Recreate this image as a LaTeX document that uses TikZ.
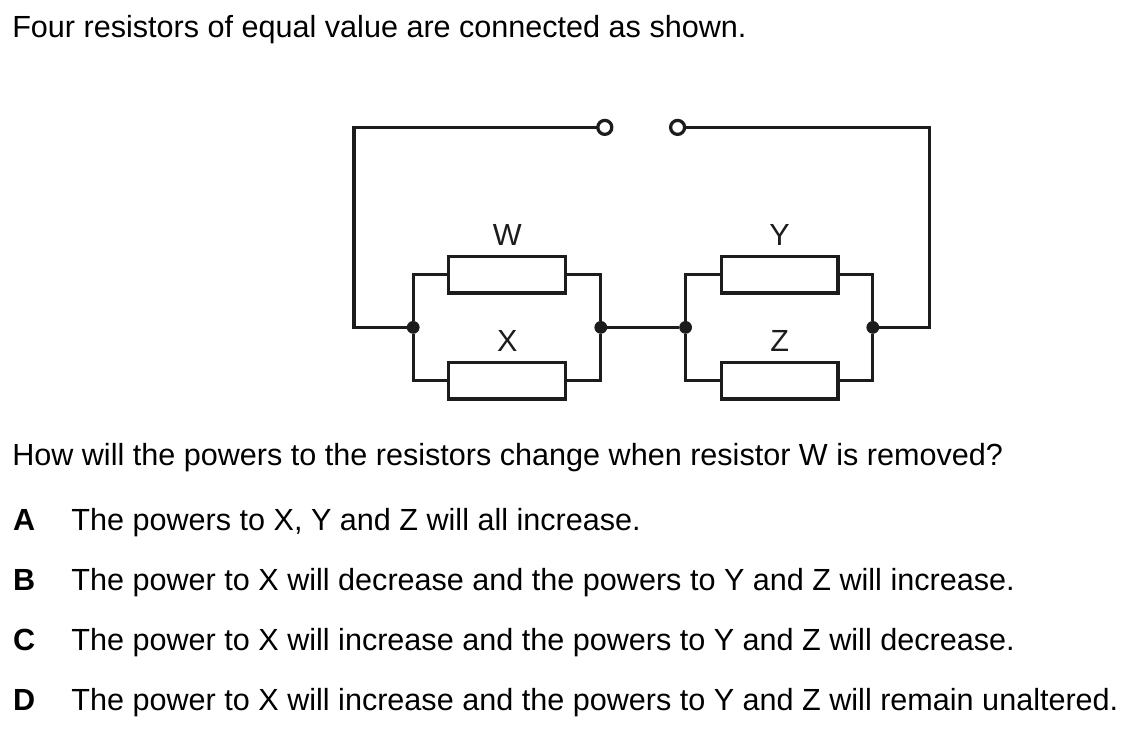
\documentclass[tikz,border=0pt]{standalone}
\usepackage{fontspec}
\setmainfont{Liberation Sans}
\usepackage{xcolor}
\usetikzlibrary{positioning}
\definecolor{wireblack}{RGB}{28, 28, 28}
\tikzset{
  wire/.style={wireblack, line width=2.3pt},
  resistor/.style={draw=wireblack, line width=2.3pt, rectangle, minimum width=2.92cm,
                   minimum height=0.92cm, inner sep=0pt, outer sep=0pt},
  junction/.style={circle, fill=wireblack, minimum size=0.32cm, inner sep=0pt, outer sep=0pt},
  terminal/.style={circle, draw=wireblack, line width=2.3pt, fill=white, minimum size=0.35cm,
                   inner sep=0pt, outer sep=0pt},
  reslabel/.style={font=\fontsize{21.75}{25}\selectfont, text=wireblack, inner sep=0pt},
  question/.style={font=\fontsize{21.75}{25}\selectfont, anchor=base west, inner sep=0pt},
  letter/.style={font=\fontsize{21.75}{25}\selectfont\bfseries, anchor=base west, inner sep=0pt}
}
\begin{document}
\begin{tikzpicture}
  \useasboundingbox (0,0) rectangle (28.175,18.225);

  %--- question text ---
  \node[question] (intro) at (0.3,17.28) {Four resistors of equal value are connected as shown.};
  \node[question] (ask) at (0.3,6.58) {How will the powers to the resistors change when resistor W is removed?};

  %--- resistors ---
  \node[resistor] (rw) at (12.68,11.36) {};
  \node[resistor] (rx) at (12.68,8.71) {};
  \node[resistor] (ry) at (19.49,11.36) {};
  \node[resistor] (rz) at (19.49,8.71) {};

  %--- resistor labels ---
  \node[reslabel, above=0.26cm of rw] (labw) {W};
  \node[reslabel, above=0.26cm of rx] (labx) {X};
  \node[reslabel, above=0.26cm of ry] (laby) {Y};
  \node[reslabel, above=0.26cm of rz] (labz) {Z};

  %--- junctions ---
  \node[junction] (ja) at (10.33,10.04) {};
  \node[junction] (jb) at (15.02,10.04) {};
  \node[junction] (jc) at (17.14,10.04) {};
  \node[junction] (jd) at (21.82,10.04) {};

  %--- open ends ---
  \node[terminal] (tl) at (15.12,15.04) {};
  \node[terminal] (tr) at (16.94,15.04) {};
  \coordinate (cl) at (8.85,10.04);
  \coordinate (cr) at (23.24,10.04);

  %--- parallel branches ---
  \draw[wire] (ja) |- (rw.west);
  \draw[wire] (ja) |- (rx.west);
  \draw[wire] (jb) |- (rw.east);
  \draw[wire] (jb) |- (rx.east);
  \draw[wire] (jc) |- (ry.west);
  \draw[wire] (jc) |- (rz.west);
  \draw[wire] (jd) |- (ry.east);
  \draw[wire] (jd) |- (rz.east);

  %--- outer loop ---
  \draw[wire] (jb) -- (jc);
  \draw[wire] (tl) -| (cl) -- (ja);
  \draw[wire] (tr) -| (cr) -- (jd);

  %--- options ---
  \node[letter] (la) at (0.32,4.95) {A};
  \node[letter] (lb) at (0.32,3.45) {B};
  \node[letter] (lc) at (0.32,1.95) {C};
  \node[letter] (ld) at (0.32,0.45) {D};
  \node[question] (oa) at (1.78,4.95) {The powers to X, Y and Z will all increase.};
  \node[question] (ob) at (1.78,3.45) {The power to X will decrease and the powers to Y and Z will increase.};
  \node[question] (oc) at (1.78,1.95) {The power to X will increase and the powers to Y and Z will decrease.};
  \node[question] (od) at (1.78,0.45) {The power to X will increase and the powers to Y and Z will remain unaltered.};
\end{tikzpicture}
\end{document}
